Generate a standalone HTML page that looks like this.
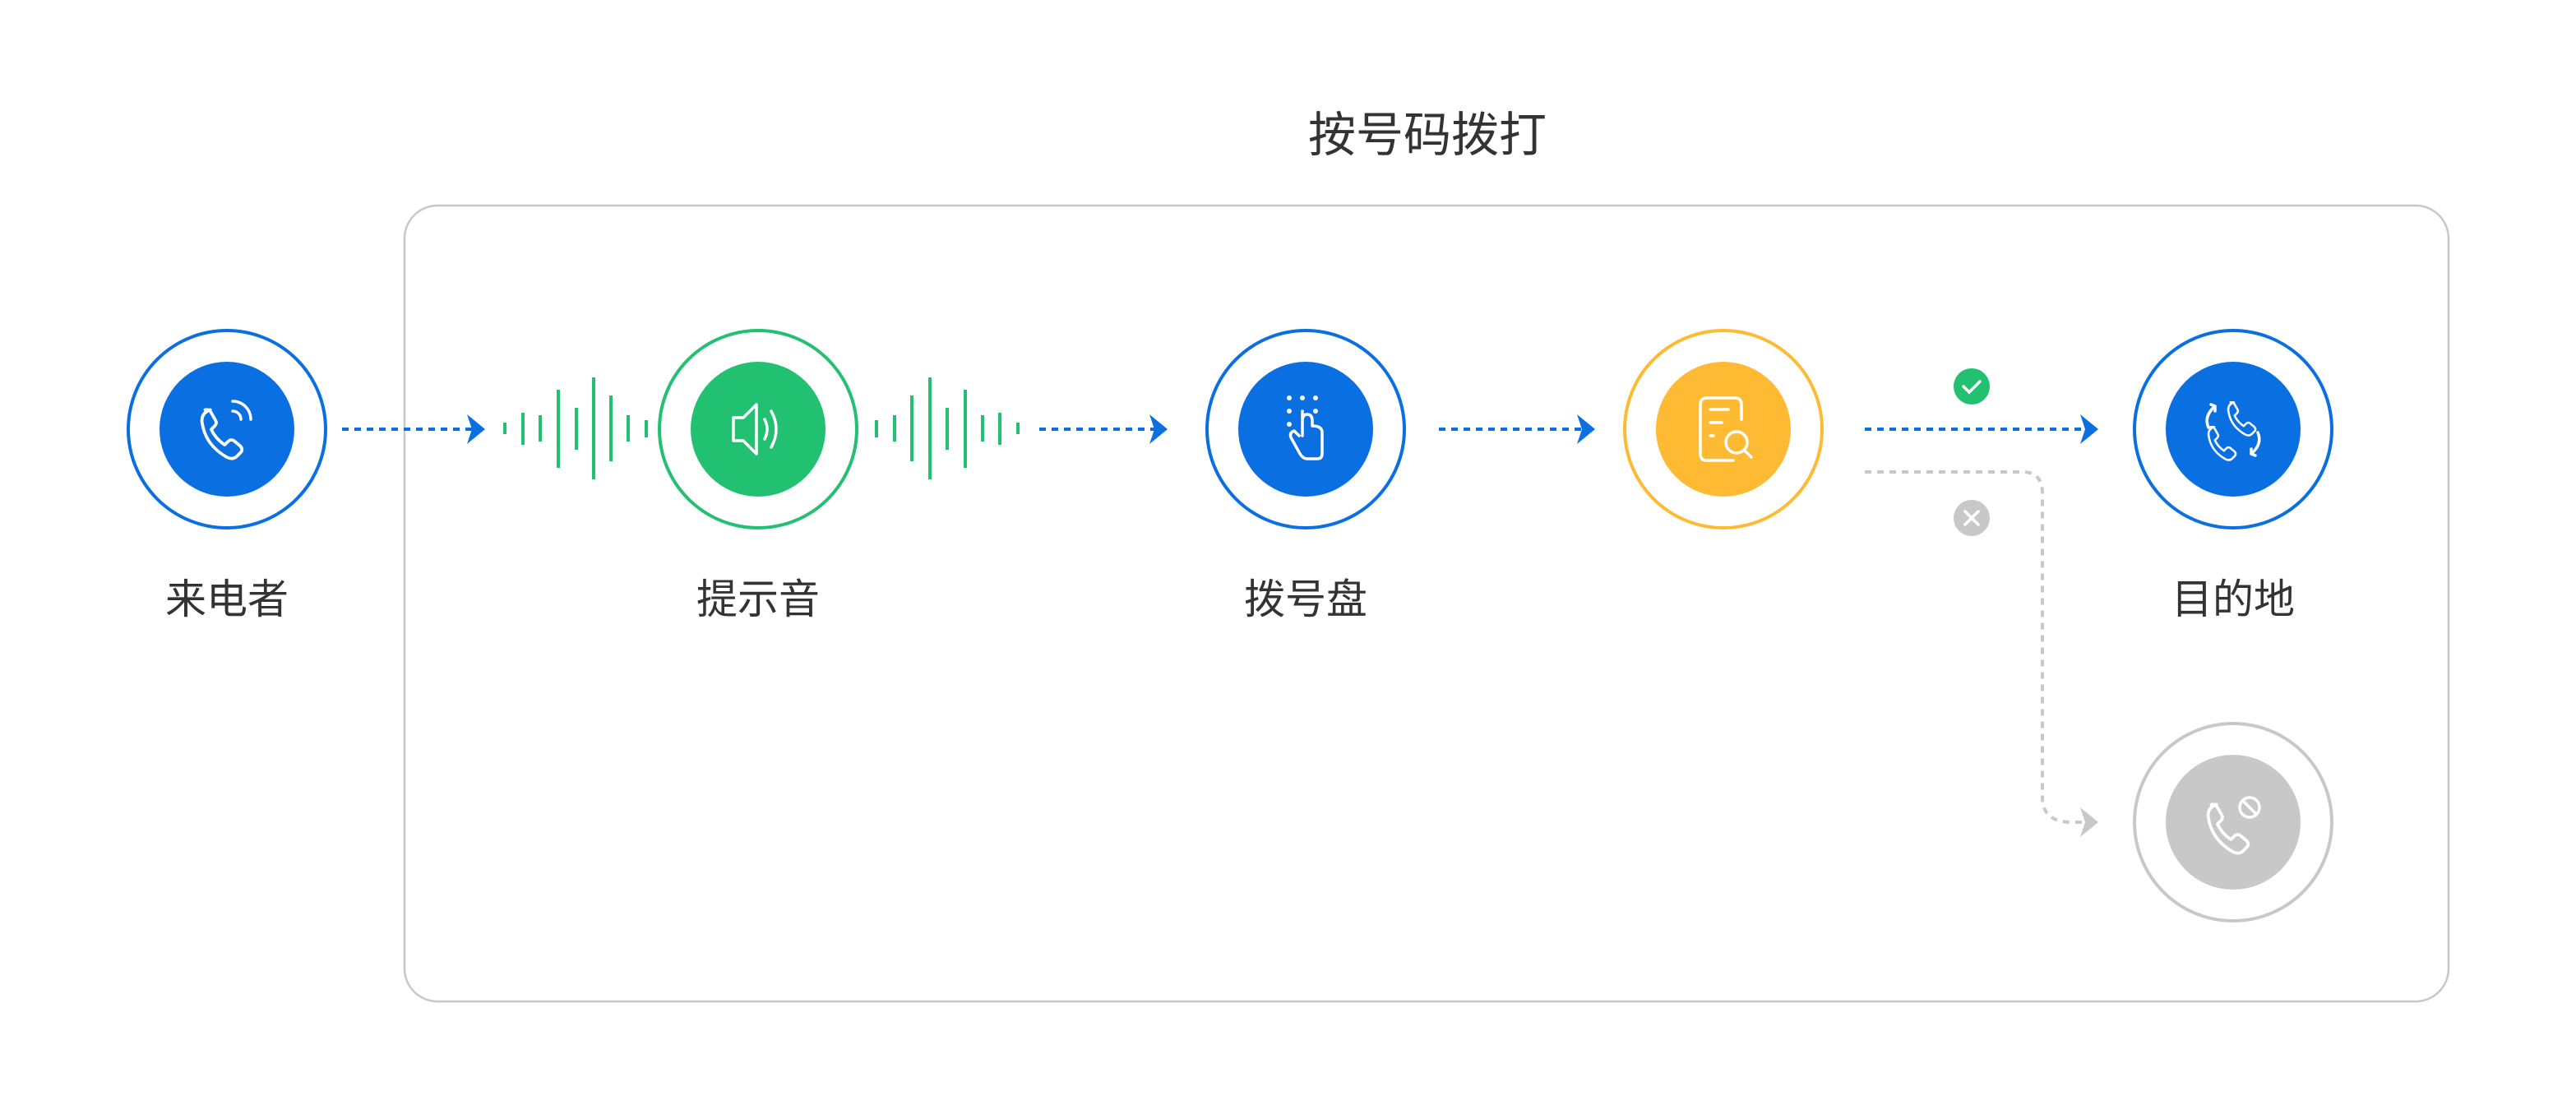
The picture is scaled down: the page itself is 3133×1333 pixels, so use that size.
<!DOCTYPE html>
<html><head><meta charset="utf-8"><style>
html,body{margin:0;padding:0;background:#fff;width:3133px;height:1333px;overflow:hidden}
text{font-family:"Liberation Sans","Noto Sans CJK SC",sans-serif;fill:#333}
</style></head><body>
<svg width="3133" height="1333" viewBox="0 0 3133 1333" xmlns="http://www.w3.org/2000/svg">
<defs>
<path id="hs" d="M-13,-22 q-9,3 -8,12 q3,22 24,34 q6,3 10,-1 l4,-4 q2,-3 -1,-6 l-6,-5 q-3,-2 -6,1 l-3,3 q-9,-6 -13,-15 l3,-3 q3,-3 1,-6 l-4,-7 q-2,-4 -6,-3z" fill="none" stroke="#fff" stroke-width="3" stroke-linejoin="round"/>
</defs>
<text x="1736" y="184" font-size="58" text-anchor="middle">按号码拨打</text>
<rect x="492" y="250" width="2486" height="968" rx="40" fill="none" stroke="#c8c8c8" stroke-width="2.5"/>

<g stroke="#0a6fe0" stroke-width="4" stroke-dasharray="8,7" fill="none">
<line x1="416" y1="522" x2="576" y2="522"/>
<line x1="1264" y1="522" x2="1406" y2="522"/>
<line x1="1750" y1="522" x2="1926" y2="522"/>
<line x1="2268" y1="522" x2="2542" y2="522"/>
</g>
<g fill="#0a6fe0">
<path d="M568,504 L590,522 L568,540 L574,522z"/>
<path d="M1398,504 L1420,522 L1398,540 L1404,522z"/>
<path d="M1918,504 L1940,522 L1918,540 L1924,522z"/>
<path d="M2530,504 L2552,522 L2530,540 L2536,522z"/>
</g>
<path d="M2268,574 H2460 Q2484,574 2484,600 V970 Q2484,1000 2520,1000 H2540" stroke="#c8c8c8" stroke-width="4" stroke-dasharray="8,7" fill="none"/>
<path d="M2530,982 L2552,1000 L2530,1018 L2536,1000z" fill="#c8c8c8"/>

<circle cx="2398" cy="470" r="22" fill="#22c172"/>
<path d="M2388,470 l7,7 l13,-13" stroke="#fff" stroke-width="3.5" fill="none" stroke-linecap="round"/>
<circle cx="2398" cy="630" r="22" fill="#c8c8c8"/>
<path d="M2390,622 l16,16 M2406,622 l-16,16" stroke="#fff" stroke-width="3.5" stroke-linecap="round"/>

<g stroke="#22c172" stroke-width="4">
<line x1="614" y1="514" x2="614" y2="528"/><line x1="636" y1="502" x2="636" y2="541"/><line x1="657" y1="505" x2="657" y2="537"/>
<line x1="679" y1="474" x2="679" y2="569"/><line x1="701" y1="496" x2="701" y2="547"/><line x1="722" y1="459" x2="722" y2="583"/>
<line x1="743" y1="481" x2="743" y2="561"/><line x1="764" y1="505" x2="764" y2="537"/><line x1="786" y1="511" x2="786" y2="532"/>
<line x1="1066" y1="511" x2="1066" y2="532"/><line x1="1088" y1="505" x2="1088" y2="537"/><line x1="1109" y1="481" x2="1109" y2="561"/>
<line x1="1131" y1="459" x2="1131" y2="583"/><line x1="1152" y1="496" x2="1152" y2="547"/><line x1="1174" y1="474" x2="1174" y2="569"/>
<line x1="1195" y1="505" x2="1195" y2="537"/><line x1="1216" y1="502" x2="1216" y2="541"/><line x1="1238" y1="514" x2="1238" y2="528"/>
</g>

<g stroke-width="4" fill="none">
<circle cx="276" cy="522" r="120" stroke="#0a6fe0"/>
<circle cx="922" cy="522" r="120" stroke="#22c172"/>
<circle cx="1588" cy="522" r="120" stroke="#0a6fe0"/>
<circle cx="2096" cy="522" r="120" stroke="#ffba33"/>
<circle cx="2716" cy="522" r="120" stroke="#0a6fe0"/>
<circle cx="2716" cy="1000" r="120" stroke="#c8c8c8"/>
</g>
<circle cx="276" cy="522" r="82" fill="#0a6fe0"/>
<circle cx="922" cy="522" r="82" fill="#22c172"/>
<circle cx="1588" cy="522" r="82" fill="#0a6fe0"/>
<circle cx="2096" cy="522" r="82" fill="#ffba33"/>
<circle cx="2716" cy="522" r="82" fill="#0a6fe0"/>
<circle cx="2716" cy="1000" r="82" fill="#c8c8c8"/>

<g transform="translate(272,526) scale(1.25)"><use href="#hs"/></g>
<path d="M283,500 a10,10 0 0 1 10,10 M283,488 a22,22 0 0 1 22,22" stroke="#fff" stroke-width="3.5" fill="none" stroke-linecap="round"/>
<g stroke="#fff" stroke-width="3.5" fill="none" stroke-linejoin="round" stroke-linecap="round">
<path d="M892,508 h12 l16,-16 v60 l-16,-16 h-12 z"/>
<path d="M930,510 q6,12 0,24 M938,500 q12,22 0,44"/>
<path d="M1584,500 v30 M1584,512 q0,-8 6,-8 q6,0 6,8 v6 q12,0 12,8 v26 q0,6 -6,6 h-12 q-6,0 -10,-8 l-10,-18 q-2,-6 4,-8 l6,6"/>
<path d="M2108,560 h-32 q-8,0 -8,-8 v-60 q0,-8 8,-8 h34 q8,0 8,8 v18"/>
<path d="M2080,498 h22 M2080,514 h14 M2080,530 h4"/>
<circle cx="2112" cy="538" r="13"/><path d="M2121,547 l9,9"/>
<path d="M2686,520 q-6,-14 8,-26 l-5,-2 M2694,494 l0,6"/>
<path d="M2746,526 q6,14 -8,26 l5,2 M2738,552 l0,-6"/>
</g>
<g fill="#fff">
<circle cx="1568" cy="484" r="3"/><circle cx="1584" cy="484" r="3"/><circle cx="1600" cy="484" r="3"/>
<circle cx="1568" cy="500" r="3"/><circle cx="1600" cy="500" r="3"/>
<circle cx="1568" cy="516" r="3"/>
</g>
<g transform="translate(2728,508) scale(0.85)"><use href="#hs"/></g>
<g transform="translate(2704,538) scale(0.85)"><use href="#hs"/></g>
<g transform="translate(2712,1006) scale(1.25)"><use href="#hs"/></g>
<circle cx="2736" cy="982" r="12" stroke="#fff" stroke-width="3.5" fill="none"/>
<path d="M2728,974 l16,16" stroke="#fff" stroke-width="3.5"/>

<text x="276" y="746" font-size="50" text-anchor="middle">来电者</text>
<text x="922" y="746" font-size="50" text-anchor="middle">提示音</text>
<text x="1588" y="746" font-size="50" text-anchor="middle">拨号盘</text>
<text x="2716" y="746" font-size="50" text-anchor="middle">目的地</text>
</svg>
</body></html>
